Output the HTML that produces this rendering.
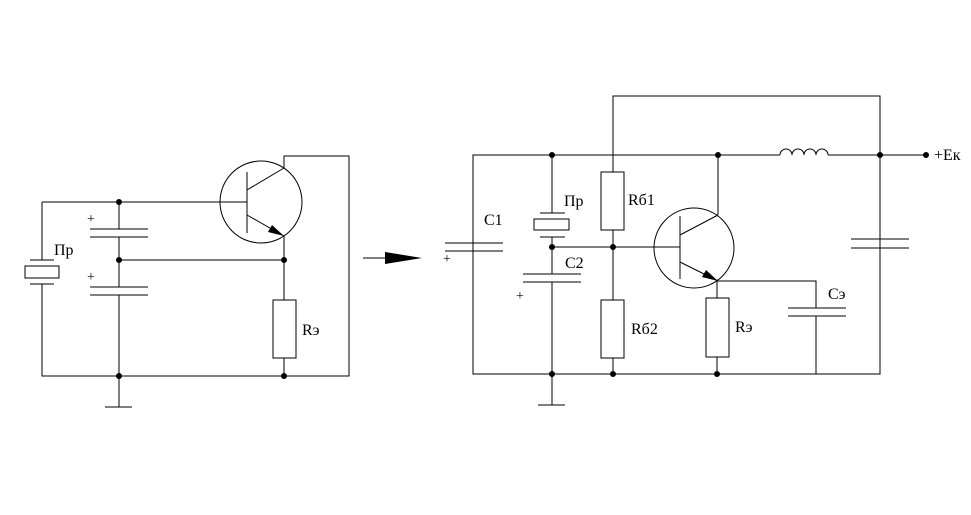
<!DOCTYPE html>
<html><head><meta charset="utf-8"><style>body{margin:0;background:#fff}svg{display:block}</style></head><body>
<svg width="971" height="515" viewBox="0 0 971 515" xmlns="http://www.w3.org/2000/svg" font-family="Liberation Serif, serif" font-size="16">
<g stroke="#000" stroke-width="1" fill="none">
<!-- LEFT -->
<circle cx="261" cy="202" r="41"/>
<line x1="247" y1="172" x2="247" y2="233"/>
<line x1="42" y1="202" x2="247" y2="202"/>
<line x1="247" y1="190" x2="284" y2="168"/>
<polyline points="284,168 284,156 349,156 349,376 42,376 42,284"/>
<line x1="247" y1="215" x2="284" y2="236"/>
<line x1="284" y1="236" x2="284" y2="300"/>
<rect x="273" y="300" width="23" height="58"/>
<line x1="284" y1="358" x2="284" y2="376"/>
<line x1="42" y1="202" x2="42" y2="260"/>
<line x1="30" y1="260" x2="54" y2="260"/>
<rect x="25" y="266" width="34" height="12"/>
<line x1="30" y1="284" x2="54" y2="284"/>
<line x1="119" y1="202" x2="119" y2="229"/>
<line x1="90" y1="229" x2="148" y2="229"/>
<line x1="90" y1="237" x2="148" y2="237"/>
<line x1="119" y1="237" x2="119" y2="287"/>
<line x1="119" y1="260" x2="284" y2="260"/>
<line x1="90" y1="287" x2="148" y2="287"/>
<line x1="90" y1="295" x2="148" y2="295"/>
<line x1="119" y1="295" x2="119" y2="407"/>
<line x1="105" y1="407" x2="132" y2="407"/>
<line x1="363" y1="258" x2="386" y2="258"/>
<!-- RIGHT -->
<polyline points="613,172 613,96 880,96 880,374 473,374 473,155 780,155"/>
<path d="M780,155 a6,6 0 0 1 12,0 a6,6 0 0 1 12,0 a6,6 0 0 1 12,0 a6,6 0 0 1 12,0"/>
<line x1="828" y1="155" x2="926" y2="155"/>
<line x1="445" y1="243" x2="503" y2="243"/>
<line x1="445" y1="251" x2="503" y2="251"/>
<line x1="552" y1="155" x2="552" y2="213"/>
<line x1="540" y1="213" x2="565" y2="213"/>
<rect x="534" y="219" width="35" height="11"/>
<line x1="540" y1="237" x2="565" y2="237"/>
<line x1="552" y1="237" x2="552" y2="274"/>
<line x1="523" y1="274" x2="581" y2="274"/>
<line x1="523" y1="282" x2="581" y2="282"/>
<line x1="552" y1="282" x2="552" y2="405"/>
<line x1="538" y1="405" x2="565" y2="405"/>
<line x1="552" y1="247" x2="680" y2="247"/>
<rect x="601" y="172" width="23" height="58"/>
<line x1="613" y1="230" x2="613" y2="300"/>
<rect x="601" y="300" width="23" height="58"/>
<line x1="613" y1="358" x2="613" y2="374"/>
<circle cx="694" cy="248" r="40"/>
<line x1="680" y1="216" x2="680" y2="279"/>
<line x1="680" y1="235" x2="718" y2="215"/>
<line x1="718" y1="215" x2="718" y2="155"/>
<line x1="680" y1="262" x2="718" y2="281"/>
<polyline points="718,281 816,281 816,308"/>
<line x1="788" y1="308" x2="846" y2="308"/>
<line x1="788" y1="316" x2="846" y2="316"/>
<line x1="816" y1="316" x2="816" y2="374"/>
<line x1="717" y1="281" x2="717" y2="298"/>
<rect x="706" y="298" width="23" height="59"/>
<line x1="717" y1="357" x2="717" y2="374"/>
<line x1="851" y1="239" x2="909" y2="239"/>
<line x1="851" y1="248" x2="909" y2="248"/>
</g>
<g fill="#000">
<polygon points="284,236 268,232 272,225"/>
<polygon points="718,281 702,277 706,270"/>
<polygon points="385,252 422,258 385,264"/>
<circle cx="119" cy="202" r="3"/><circle cx="119" cy="260" r="3"/><circle cx="284" cy="260" r="3"/>
<circle cx="119" cy="376" r="3"/><circle cx="284" cy="376" r="3"/>
<circle cx="552" cy="155" r="3"/><circle cx="718" cy="155" r="3"/><circle cx="880" cy="155" r="3"/><circle cx="926" cy="155" r="3"/>
<circle cx="552" cy="247" r="3"/><circle cx="613" cy="247" r="3"/>
<circle cx="552" cy="374" r="3"/><circle cx="613" cy="374" r="3"/><circle cx="717" cy="374" r="3"/>
<text x="54" y="255">Пр</text><text x="302" y="335">Rэ</text>
<text x="87" y="223" font-size="14">+</text><text x="87" y="281" font-size="14">+</text>
<text x="484" y="225">C1</text><text x="443" y="263" font-size="14">+</text>
<text x="564" y="206">Пр</text><text x="565" y="268">C2</text><text x="516" y="300" font-size="14">+</text>
<text x="628" y="205">Rб1</text><text x="631" y="334">Rб2</text>
<text x="735" y="332">Rэ</text><text x="828" y="299">Cэ</text>
<text x="934" y="160">+Eк</text>
</g>
</svg>
</body></html>
